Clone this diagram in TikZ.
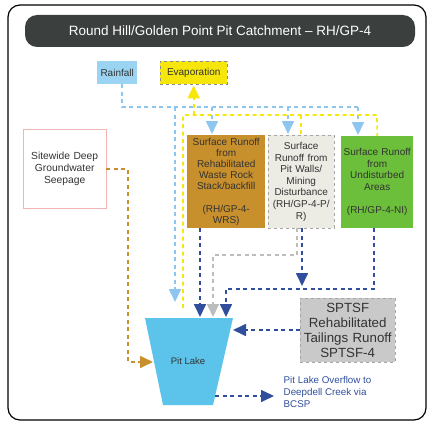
\documentclass[tikz,border=0pt]{standalone}
\usepackage{fontspec}
\setmainfont{Liberation Sans}
\usetikzlibrary{arrows.meta}

\definecolor{rainblue}{HTML}{9AD4F2}
\definecolor{rainline}{HTML}{8EC6EF}
\definecolor{flowblue}{HTML}{2F4E9C}
\definecolor{evapyellow}{HTML}{F6E60C}
\definecolor{rockbrown}{HTML}{C8902C}
\definecolor{wallgrey}{HTML}{ECECE4}
\definecolor{undistgreen}{HTML}{6CBF3A}
\definecolor{lakeblue}{HTML}{5CC3EA}
\definecolor{titlegrey}{HTML}{3B403E}
\definecolor{tailgrey}{HTML}{C9C9C9}
\definecolor{seeppink}{HTML}{F0B4B4}
\definecolor{greyflow}{HTML}{BDBDBD}

\tikzset{
  flow/.style={line width=1.7pt, dash pattern=on 4pt off 3.5pt},
  tip/.style={-{Triangle[width=12pt,length=13pt]}, shorten >=1pt},
  box/.style={anchor=north west, align=center, inner sep=0.5pt, text=black!80,
    font=\fontsize{10}{11.6}\selectfont},
}

\begin{document}
\begin{tikzpicture}[x=1pt, y=-1pt]
    \clip (0,0) rectangle (427,428);
    \draw[line width=1.2pt, rounded corners=12pt] (8,5) rectangle (426,420);

    % title
    \node[fill=titlegrey, rounded corners=12pt, text=white, minimum width=390,
          minimum height=32, font=\fontsize{13.5}{15}\selectfont] (title) at (220,31)
          {Round Hill/Golden Point Pit Catchment -- RH/GP-4};

    % climate
    \node[box, fill=rainblue, minimum width=40, minimum height=23] at (97,61) (rain) {Rainfall};
    \node[box, fill=evapyellow, draw=black!45, dashed, minimum width=67, minimum height=23] at (160,61) (evap) {Evaporation};

    % sources
    \node[box, draw=seeppink, fill=white, text width=82, minimum height=79,
          font=\fontsize{10.3}{12.2}\selectfont] at (23,129) (seep) {Sitewide Deep\\Groundwater\\Seepage};
    \node[box, fill=rockbrown, text width=77, minimum height=93,
          font=\fontsize{10}{11.2}\selectfont] at (187,135) (runA)
          {Surface Runoff\\from\\Rehabilitated\\Waste Rock\\Stack/backfill\\[11.2pt](RH/GP-4-\\WRS)};
    \node[box, fill=wallgrey, draw=black!35, dashed, text width=65, minimum height=93] at (268,135) (runB)
          {Surface\\Runoff from\\Pit Walls/\\Mining\\Disturbance\\(RH/GP-4-P/\\R)};
    \node[box, fill=undistgreen, text width=71, minimum height=92] at (341,136) (runC)
          {Surface Runoff\\from\\Undisturbed\\Areas\\[11.6pt](RH/GP-4-NI)};
    \node[box, fill=tailgrey, draw=black!35, dashed, text width=94, minimum height=64,
          font=\fontsize{13.3}{15}\selectfont] at (300,298) (tail)
          {SPTSF\\Rehabilitated\\Tailings Runoff\\SPTSF-4};

    % pit lake
    \fill[lakeblue] (145,318) -- (233,318) -- (213,405) -- (163,405) -- cycle;
    \node[font=\fontsize{9.5}{11}\selectfont, text=black!80] at (188,361) (lake) {Pit Lake};
    \node[box, align=left, text=flowblue, font=\fontsize{9.8}{12}\selectfont] at (283,376) (ovf)
          {Pit Lake Overflow to\\Deepdell Creek via\\BCSP};

    \coordinate (rbend) at (122,107);
    \coordinate (rend) at (358,107);
    \coordinate (inA) at (212,135);
    \coordinate (inB) at (288,135);
    \coordinate (inC) at (358,136);
    \coordinate (rainlake) at (175,303);
    \coordinate (ylake) at (183,308);
    \coordinate (ytop) at (183,115);
    \coordinate (yend) at (377,115);
    \coordinate (sbend) at (128,362);
    \coordinate (lakeL) at (154,362);
    \coordinate (lakeA) at (200,318);
    \coordinate (lakeB) at (213,318);
    \coordinate (lakeC) at (226,318);
    \coordinate (lakeR) at (232,330);
    \coordinate (lakeO) at (215,396);
    \coordinate (gbend) at (297,255);
    \coordinate (bjoin) at (302,289);
    \coordinate (cbend) at (374,289);

    % rainfall
    \draw[flow, rainline] (rbend |- rain.south) -- (rbend) -- (rend);
    \draw[flow, rainline, tip] (inA |- rbend) -- (inA);
    \draw[flow, rainline, tip] (inB |- rbend) -- (inB);
    \draw[flow, rainline, tip] (rend) -- (inC);
    \draw[flow, rainline, tip] (rainlake |- rbend) -- (rainlake);

    % evaporation
    \draw[flow, evapyellow] (ylake) -- (ytop) -- (yend) -- (runC.north);
    \draw[flow, evapyellow] (runB.north |- ytop) -- (runB.north);
    \draw[flow, evapyellow, tip] (evap.south |- ytop) -- (evap.south);

    % seepage
    \draw[flow, rockbrown, tip] (seep.east) -| (sbend) -- (lakeL);

    % runoff to lake
    \draw[flow, flowblue, tip] (runA.south -| lakeA) -- (lakeA);
    \draw[flow, greyflow, tip] (gbend |- runB.south) -- (gbend) -| (lakeB);
    \draw[flow, flowblue, tip, shorten >=3pt] (bjoin |- runB.south) -- (bjoin);
    \draw[flow, flowblue, tip] (cbend |- runC.south) -- (cbend) -| (lakeC);
    \draw[flow, flowblue, tip] (tail.west |- lakeR) -- (lakeR);
    \draw[flow, flowblue, tip, shorten >=9pt] (lakeO) -- (lakeO -| ovf.west);
\end{tikzpicture}
\end{document}
